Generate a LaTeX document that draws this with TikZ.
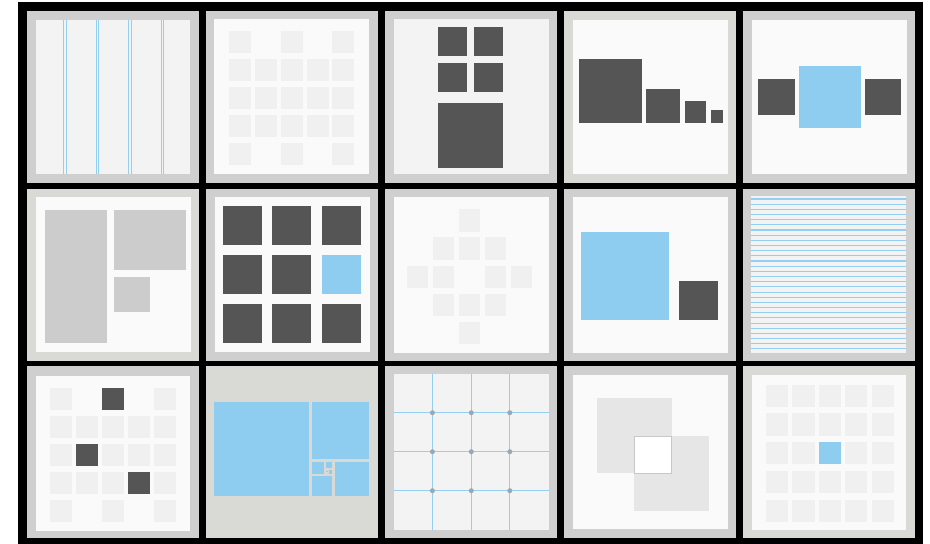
\documentclass[tikz,border=0pt]{standalone}
\usetikzlibrary{positioning}
\definecolor{frameGray}{HTML}{CFCFCF}
\definecolor{frameWarm}{HTML}{D9D9D6}
\definecolor{paperA}{HTML}{F3F3F3}
\definecolor{paperB}{HTML}{FAFAFA}
\definecolor{cellLight}{HTML}{F0F0F0}
\definecolor{cellMid}{HTML}{CCCCCC}
\definecolor{cellDark}{HTML}{555555}
\definecolor{skyBlue}{HTML}{8ECDF0}
\definecolor{ruleBlue}{HTML}{92CFF1}
\definecolor{pinGray}{HTML}{9AA8B4}
\definecolor{overlapGray}{HTML}{E6E6E6}
\definecolor{edgeGray}{HTML}{C8C8C8}

\begin{document}
\begin{tikzpicture}[x=1pt,y=-1pt,
          tileframe/.style={fill=frameGray},
          tilewarm/.style={fill=frameWarm},
          paperflat/.style={fill=paperA},
          paperwhite/.style={fill=paperB},
          lightcell/.style={fill=cellLight},
          midcell/.style={fill=cellMid},
          darkcell/.style={fill=cellDark},
          skycell/.style={fill=skyBlue},
          blueline/.style={draw=ruleBlue,line width=1.1pt},
        ]
        \useasboundingbox (0,0) rectangle (930,544);
        \fill[white] (0,0) rectangle (930,544);
        \fill[black] (18,2) rectangle (923,544);

        % row 1
        \begin{scope}[shift={(27,11)}]
          \fill[tileframe] (0,0) rectangle (172,172);
          \fill[paperflat] (9,9) rectangle (163,163);
          \foreach \x in {37.8,70.5,103,135.5} {
            \draw[blueline] (\x-1.4,9) -- (\x-1.4,163);
            \draw[blueline] (\x+1.4,9) -- (\x+1.4,163);
          }
        \end{scope}
        \begin{scope}[shift={(206,11)}]
          \fill[tileframe] (0,0) rectangle (172,172);
          \fill[paperwhite] (8.3,8) rectangle (163.3,163);
          \foreach \c in {0,...,4}
            \foreach \r in {1,2,3}
              \fill[lightcell] (23.3+25.75*\c,20+28*\r) rectangle ++(22,22);
          \foreach \c in {0,2,4}
            \foreach \r in {0,4}
              \fill[lightcell] (23.3+25.75*\c,20+28*\r) rectangle ++(22,22);
        \end{scope}
        \begin{scope}[shift={(385,11)}]
          \fill[tileframe] (0,0) rectangle (172,172);
          \fill[paperflat] (8.5,8) rectangle (163.5,163);
          \fill[darkcell] (52.8,16) rectangle (82,44.7);
          \fill[darkcell] (88.8,16) rectangle (117.7,44.7);
          \fill[darkcell] (52.8,51.7) rectangle (82,80.7);
          \fill[darkcell] (88.8,51.7) rectangle (117.7,80.7);
          \fill[darkcell] (52.8,92.3) rectangle (117.7,157);
        \end{scope}
        \begin{scope}[shift={(564,11)}]
          \fill[tilewarm] (0,0) rectangle (172,172);
          \fill[paperwhite] (8.5,8.5) rectangle (163.5,163);
          \fill[darkcell] (14.6,48.3) rectangle (77.8,111.7);
          \fill[darkcell] (82.4,78) rectangle (115.9,111.7);
          \fill[darkcell] (120.6,90.3) rectangle (141.6,111.7);
          \fill[darkcell] (146.6,98.7) rectangle (159.1,111.7);
        \end{scope}
        \begin{scope}[shift={(743,11)}]
          \fill[tileframe] (0,0) rectangle (172,172);
          \fill[paperwhite] (8.5,9) rectangle (163.5,163);
          \fill[darkcell] (15.4,68) rectangle (51.7,104.3);
          \fill[skycell] (55.7,55) rectangle (118.1,117);
          \fill[darkcell] (122.4,68) rectangle (158.4,104.3);
        \end{scope}

        % row 2
        \begin{scope}[shift={(27,188.5)}]
          \fill[tilewarm] (0,0) rectangle (172,172.5);
          \fill[paperwhite] (9,8.8) rectangle (163.5,163.5);
          \fill[midcell] (18,21.2) rectangle (80.3,154.5);
          \fill[midcell] (87,21.2) rectangle (158.7,81.5);
          \fill[midcell] (87,88.5) rectangle (122.7,123.8);
        \end{scope}
        \begin{scope}[shift={(206,188.5)}]
          \fill[tileframe] (0,0) rectangle (172,172.5);
          \fill[paperwhite] (8.5,8.8) rectangle (163.5,163.5);
          \foreach \c in {0,1,2}
            \foreach \r in {0,1,2}
              \fill[darkcell] (17+49.3*\c,17.5+49*\r) rectangle ++(39,39);
          \fill[skycell] (17+49.3*2,17.5+49) rectangle ++(39,39);
        \end{scope}
        \begin{scope}[shift={(385,188.5)}]
          \fill[tileframe] (0,0) rectangle (172,172.5);
          \fill[paperwhite] (8.5,8.5) rectangle (163.5,164);
          \foreach \c/\r in {2/0,1/1,2/1,3/1,0/2,1/2,3/2,4/2,1/3,2/3,3/3,2/4}
            \fill[lightcell] (21.7+26*\c,20.8+28.1*\r) rectangle ++(21.5,22.4);
        \end{scope}
        \begin{scope}[shift={(564,188.5)}]
          \fill[tileframe] (0,0) rectangle (172,172.5);
          \fill[paperwhite] (8.5,8) rectangle (163.5,164);
          \fill[skycell] (17.1,43.2) rectangle (104.9,131.2);
          \fill[darkcell] (114.5,92.2) rectangle (153.7,131.2);
        \end{scope}
        \begin{scope}[shift={(743,188.5)}]
          \fill[tileframe] (0,0) rectangle (172,172.5);
          \fill[paperflat] (7.5,7.5) rectangle (162.5,164);
          \foreach \i in {0,...,29}
            \draw[blueline] (7.5,10.5+5.17*\i) -- (162.5,10.5+5.17*\i);
        \end{scope}

        % row 3
        \begin{scope}[shift={(27,366)}]
          \fill[tileframe] (0,0) rectangle (172,172);
          \fill[paperwhite] (9,9.5) rectangle (163.3,164.5);
          \foreach \c in {0,...,4}
            \foreach \r in {1,2,3}
              \fill[lightcell] (23.3+25.85*\c,21.7+28*\r) rectangle ++(22,22);
          \foreach \c in {0,2,4}
            \foreach \r in {0,4}
              \fill[lightcell] (23.3+25.85*\c,21.7+28*\r) rectangle ++(22,22);
          \foreach \c/\r in {2/0,1/2,3/3}
            \fill[darkcell] (23.3+25.85*\c,21.7+28*\r) rectangle ++(22,22);
        \end{scope}
        \begin{scope}[shift={(206,366)}]
          \fill[tilewarm] (0,0) rectangle (172,172);
          \fill[skycell] (8.3,35.7) rectangle (103,130);
          \fill[skycell] (106,35.7) rectangle (163,92.7);
          \fill[skycell] (128.7,95.7) rectangle (163,130);
          \fill[skycell] (106,110.3) rectangle (126,130);
          \fill[skycell] (106,95.7) rectangle (118,107.5);
          \fill[skycell] (120.3,95.7) rectangle (126,101.5);
          \fill[skycell] (122.6,103.8) rectangle (126,107.5);
          \fill[skycell] (120.3,104.8) rectangle (121.8,106.3);
        \end{scope}
        \begin{scope}[shift={(385,366)}]
          \fill[tileframe] (0,0) rectangle (172,172);
          \fill[paperflat] (8.5,8) rectangle (163.5,163.5);
          \foreach \v in {47.4,86.3,124.8}
            \draw[blueline] (\v,8) -- (\v,163.5);
          \foreach \h in {46.7,85.7,124.7}
            \draw[blueline] (8.5,\h) -- (163.5,\h);
          \foreach \v in {47.4,86.3,124.8}
            \foreach \h in {46.7,85.7,124.7}
              \fill[pinGray] (\v,\h) circle (2.5);
        \end{scope}
        \begin{scope}[shift={(564,366)}]
          \fill[tileframe] (0,0) rectangle (172,172);
          \fill[paperwhite] (8.5,9) rectangle (163.5,163);
          \fill[overlapGray] (32.5,32) rectangle (107.7,107.3);
          \fill[overlapGray] (69.9,70) rectangle (144.8,144.7);
          \filldraw[fill=white,draw=edgeGray,line width=0.8pt] (69.9,70) rectangle (107.7,107.3);
        \end{scope}
        \begin{scope}[shift={(743,366)}]
          \fill[tilewarm] (0,0) rectangle (172,172);
          \fill[paperwhite] (9.3,9) rectangle (163,163.5);
          \foreach \c in {0,...,4}
            \foreach \r in {0,...,4}
              \fill[lightcell] (22.9+26.4*\c,18.7+28.7*\r) rectangle ++(22.3,22.3);
          \fill[skycell] (22.9+26.4*2,18.7+28.7*2) rectangle ++(22.3,22.3);
        \end{scope}
      \end{tikzpicture}
\end{document}
